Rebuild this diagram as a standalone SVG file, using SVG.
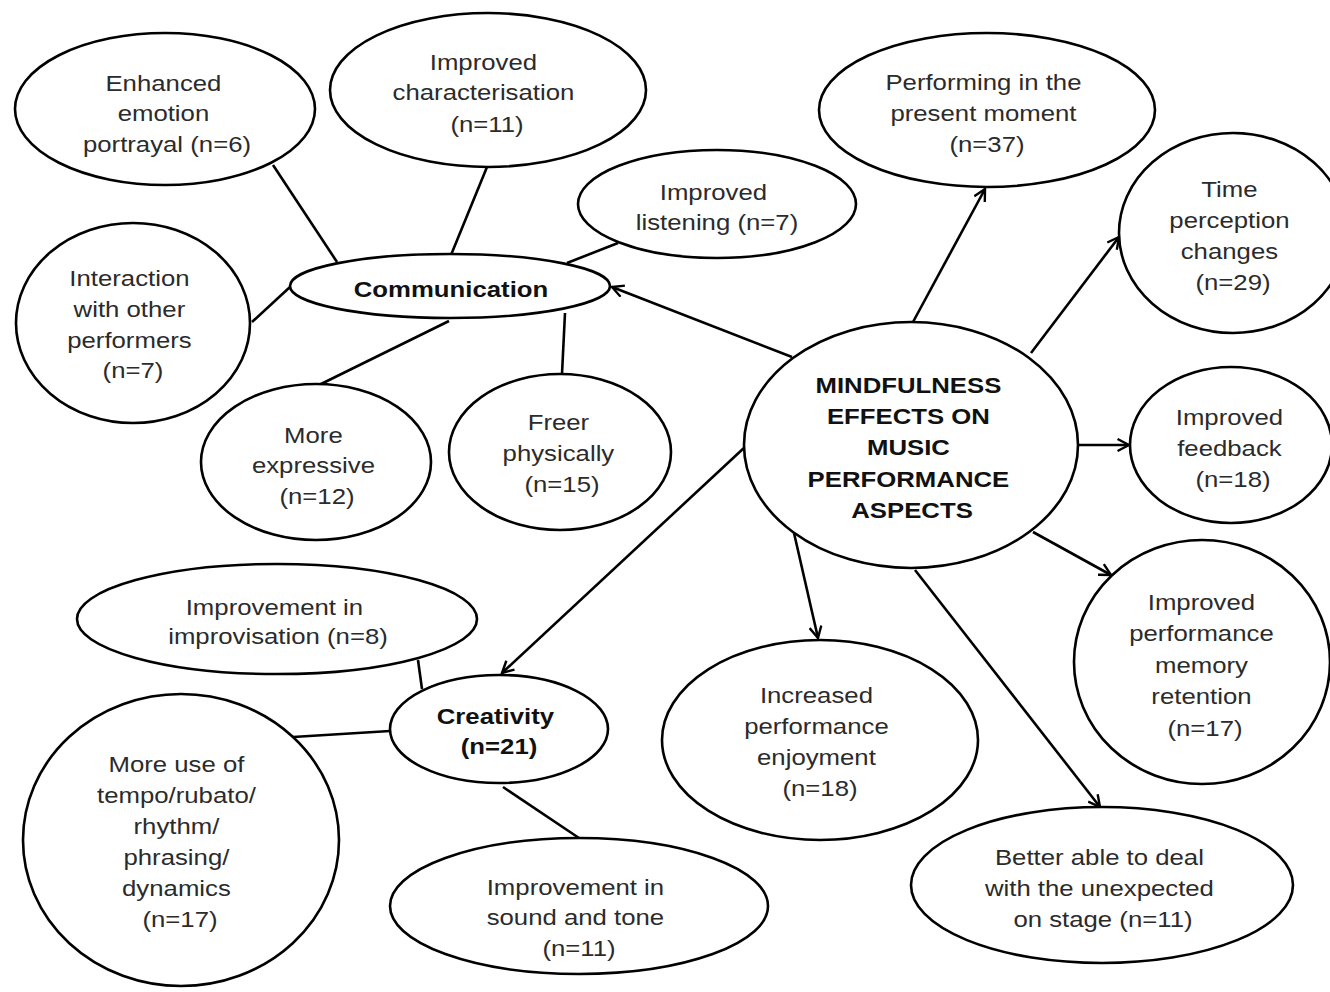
<svg xmlns="http://www.w3.org/2000/svg" width="1330" height="992" viewBox="0 0 1330 992">
  <defs>
    <marker id="arrow" viewBox="0 0 14 14" refX="12.5" refY="7" markerWidth="14" markerHeight="14" markerUnits="userSpaceOnUse" orient="auto">
      <path d="M1,1 L12.5,7 L1,13" fill="none" stroke="#000" stroke-width="2.4" stroke-linejoin="miter"/>
    </marker>
    <style>
      ellipse { fill: #fff; stroke: #000; stroke-width: 2.6; }
      .links line { stroke: #000; stroke-width: 2.6; }
      .links .arr { marker-end: url(#arrow); }
      text { font-family: "Liberation Sans", Arial, sans-serif; font-size: 23px; text-anchor: middle; fill: #2b2b2b; }
      text.b { font-weight: bold; fill: #111; }
    </style>
  </defs>

  <rect width="1330" height="992" fill="#fff"/>

  <!-- connectors -->
  <g class="links">
    <line x1="273" y1="165" x2="337" y2="262"/>
    <line x1="487" y1="167" x2="451" y2="255"/>
    <line x1="618" y1="243" x2="567" y2="263"/>
    <line x1="252" y1="322" x2="290" y2="287"/>
    <line x1="319" y1="385" x2="449" y2="321"/>
    <line x1="562" y1="374" x2="565" y2="313"/>
    <line x1="418" y1="660" x2="422" y2="689"/>
    <line x1="293" y1="737" x2="390" y2="731"/>
    <line x1="503" y1="787" x2="579" y2="838"/>

    <line class="arr" x1="792" y1="357" x2="612" y2="287"/>
    <line class="arr" x1="913" y1="322" x2="985" y2="189"/>
    <line class="arr" x1="1031" y1="353" x2="1119" y2="237"/>
    <line class="arr" x1="1078" y1="445" x2="1129" y2="445"/>
    <line class="arr" x1="1033" y1="532" x2="1111" y2="575"/>
    <line class="arr" x1="915" y1="570" x2="1100" y2="807"/>
    <line class="arr" x1="794" y1="533" x2="818" y2="638"/>
    <line class="arr" x1="745" y1="447" x2="502" y2="673"/>
  </g>

  <!-- central theme -->
  <g id="mindfulness">
    <ellipse cx="911" cy="445" rx="167" ry="123"/>
    <text class="b" transform="translate(912,0) scale(1.12,1)">
      <tspan x="0" y="393">MINDFULNESS</tspan>
      <tspan x="0" y="424">EFFECTS ON</tspan>
      <tspan x="0" y="455">MUSIC</tspan>
      <tspan x="0" y="487">PERFORMANCE</tspan>
      <tspan x="0" y="518">ASPECTS</tspan>
    </text>
  </g>

  <!-- communication cluster -->
  <g id="communication">
    <ellipse cx="450" cy="286" rx="160" ry="32"/>
    <text class="b" transform="translate(451,0) scale(1.12,1)"><tspan x="0" y="297">Communication</tspan></text>
  </g>
  <g id="emotion">
    <ellipse cx="165" cy="109" rx="150" ry="76"/>
    <text transform="translate(167,0) scale(1.12,1)">
      <tspan x="0" y="91">Enhanced</tspan>
      <tspan x="0" y="121">emotion</tspan>
      <tspan x="0" y="152">portrayal (n=6)</tspan>
    </text>
  </g>
  <g id="characterisation">
    <ellipse cx="488" cy="90" rx="158" ry="77"/>
    <text transform="translate(487,0) scale(1.12,1)">
      <tspan x="0" y="70">Improved</tspan>
      <tspan x="0" y="100">characterisation</tspan>
      <tspan x="0" y="132">(n=11)</tspan>
    </text>
  </g>
  <g id="listening">
    <ellipse cx="717" cy="204" rx="139" ry="54"/>
    <text transform="translate(717,0) scale(1.12,1)">
      <tspan x="0" y="200">Improved</tspan>
      <tspan x="0" y="230">listening (n=7)</tspan>
    </text>
  </g>
  <g id="interaction">
    <ellipse cx="133" cy="323" rx="117" ry="100"/>
    <text transform="translate(133,0) scale(1.12,1)">
      <tspan x="0" y="286">Interaction</tspan>
      <tspan x="0" y="317">with other</tspan>
      <tspan x="0" y="348">performers</tspan>
      <tspan x="0" y="378">(n=7)</tspan>
    </text>
  </g>
  <g id="expressive">
    <ellipse cx="316" cy="462" rx="115" ry="78"/>
    <text transform="translate(317,0) scale(1.12,1)">
      <tspan x="0" y="443">More</tspan>
      <tspan x="0" y="473">expressive</tspan>
      <tspan x="0" y="504">(n=12)</tspan>
    </text>
  </g>
  <g id="freer">
    <ellipse cx="560" cy="452" rx="111" ry="78"/>
    <text transform="translate(562,0) scale(1.12,1)">
      <tspan x="0" y="430">Freer</tspan>
      <tspan x="0" y="461">physically</tspan>
      <tspan x="0" y="492">(n=15)</tspan>
    </text>
  </g>

  <!-- direct effects -->
  <g id="present-moment">
    <ellipse cx="987" cy="110" rx="168" ry="77"/>
    <text transform="translate(987,0) scale(1.12,1)">
      <tspan x="0" y="90">Performing in the</tspan>
      <tspan x="0" y="121">present moment</tspan>
      <tspan x="0" y="152">(n=37)</tspan>
    </text>
  </g>
  <g id="time-perception">
    <ellipse cx="1233" cy="233" rx="114" ry="100"/>
    <text transform="translate(1233,0) scale(1.12,1)">
      <tspan x="0" y="197">Time</tspan>
      <tspan x="0" y="228">perception</tspan>
      <tspan x="0" y="259">changes</tspan>
      <tspan x="0" y="290">(n=29)</tspan>
    </text>
  </g>
  <g id="feedback">
    <ellipse cx="1231" cy="445" rx="101" ry="78"/>
    <text transform="translate(1233,0) scale(1.12,1)">
      <tspan x="0" y="425">Improved</tspan>
      <tspan x="0" y="456">feedback</tspan>
      <tspan x="0" y="487">(n=18)</tspan>
    </text>
  </g>
  <g id="memory">
    <ellipse cx="1202" cy="662" rx="128" ry="122"/>
    <text transform="translate(1205,0) scale(1.12,1)">
      <tspan x="0" y="610">Improved</tspan>
      <tspan x="0" y="641">performance</tspan>
      <tspan x="0" y="673">memory</tspan>
      <tspan x="0" y="704">retention</tspan>
      <tspan x="0" y="736">(n=17)</tspan>
    </text>
  </g>
  <g id="unexpected">
    <ellipse cx="1102" cy="885" rx="191" ry="78"/>
    <text transform="translate(1103,0) scale(1.12,1)">
      <tspan x="0" y="865">Better able to deal</tspan>
      <tspan x="0" y="896">with the unexpected</tspan>
      <tspan x="0" y="927">on stage (n=11)</tspan>
    </text>
  </g>
  <g id="enjoyment">
    <ellipse cx="820" cy="740" rx="158" ry="100"/>
    <text transform="translate(820,0) scale(1.12,1)">
      <tspan x="0" y="703">Increased</tspan>
      <tspan x="0" y="734">performance</tspan>
      <tspan x="0" y="765">enjoyment</tspan>
      <tspan x="0" y="796">(n=18)</tspan>
    </text>
  </g>

  <!-- creativity cluster -->
  <g id="creativity">
    <ellipse cx="499" cy="729" rx="109" ry="54"/>
    <text class="b" transform="translate(499,0) scale(1.12,1)">
      <tspan x="0" y="724">Creativity</tspan>
      <tspan x="0" y="754">(n=21)</tspan>
    </text>
  </g>
  <g id="improvisation">
    <ellipse cx="277" cy="619" rx="200" ry="55"/>
    <text transform="translate(278,0) scale(1.12,1)">
      <tspan x="0" y="615">Improvement in</tspan>
      <tspan x="0" y="644">improvisation (n=8)</tspan>
    </text>
  </g>
  <g id="tempo">
    <ellipse cx="181" cy="840" rx="158" ry="146"/>
    <text transform="translate(180,0) scale(1.12,1)">
      <tspan x="0" y="772">More use of</tspan>
      <tspan x="0" y="803">tempo/rubato/</tspan>
      <tspan x="0" y="834">rhythm/</tspan>
      <tspan x="0" y="865">phrasing/</tspan>
      <tspan x="0" y="896">dynamics</tspan>
      <tspan x="0" y="927">(n=17)</tspan>
    </text>
  </g>
  <g id="sound-tone">
    <ellipse cx="579" cy="906" rx="189" ry="68"/>
    <text transform="translate(579,0) scale(1.12,1)">
      <tspan x="0" y="895">Improvement in</tspan>
      <tspan x="0" y="925">sound and tone</tspan>
      <tspan x="0" y="956">(n=11)</tspan>
    </text>
  </g>
</svg>
